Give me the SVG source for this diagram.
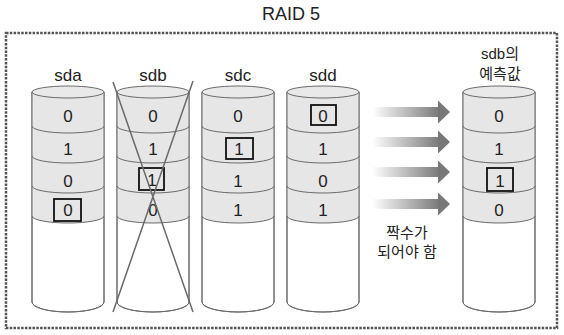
<svg xmlns="http://www.w3.org/2000/svg" xmlns:xlink="http://www.w3.org/1999/xlink" width="564" height="335" viewBox="0 0 564 335">
<style>
.lbl{font-family:"Liberation Sans","Noto Sans CJK KR",sans-serif;font-size:17px;fill:#222;text-anchor:middle}
.kr{font-family:"Liberation Sans","Noto Sans CJK KR",sans-serif;font-size:15px;fill:#222;text-anchor:middle}
.dig{font-family:"Liberation Sans",sans-serif;font-size:17px;fill:#222;text-anchor:middle}
.box{fill:none;stroke:#111;stroke-width:1.8}
.cl{fill:none;stroke:#6a6a6a;stroke-width:1}
.cross{stroke:#6a6a6a;stroke-width:1.5;fill:none}
.head{fill:#777}
</style>
<defs>
<linearGradient id="shaft" gradientUnits="userSpaceOnUse" x1="372" y1="0" x2="440" y2="0">
<stop offset="0" stop-color="#ffffff"/>
<stop offset="1" stop-color="#787878"/>
</linearGradient>
<g id="cyl">
<path d="M-36,92 L-36,302 A36 10 0 0 0 36,302 L36,92 Z" fill="#fff" stroke="#6a6a6a" stroke-width="1"/>
<path d="M-36,92 L-36,216 A36 7 0 0 0 36,216 L36,92 Z" fill="#e6e6e6"/>
<path d="M-36,92 L-36,302 A36 10 0 0 0 36,302 L36,92" class="cl"/>
<ellipse cx="0" cy="92" rx="36" ry="6" fill="#e9e9e9" stroke="#6a6a6a" stroke-width="1"/>
<path d="M-36,126 A36 7 0 0 0 36,126 M-36,156 A36 7 0 0 0 36,156 M-36,186 A36 7 0 0 0 36,186 M-36,216 A36 7 0 0 0 36,216" class="cl"/>
</g>
</defs>
<rect width="564" height="335" fill="#fff"/>
<text x="291" y="20" class="lbl" style="font-size:18px">RAID 5</text>
<rect x="6" y="33" width="551" height="295" fill="none" stroke="#555" stroke-width="2.5" stroke-dasharray="2.5 1.3"/>

<g id="sda">
<use xlink:href="#cyl" transform="translate(68,0)"/>
<text x="68" y="81" class="lbl">sda</text>
<text x="68" y="122" class="dig">0</text>
<text x="68" y="155" class="dig">1</text>
<text x="68" y="187" class="dig">0</text>
<text x="68" y="216" class="dig">0</text>
<rect x="54" y="199" width="27" height="22" class="box"/>
</g>

<g id="sdb">
<use xlink:href="#cyl" transform="translate(153,0)"/>
<text x="153" y="81" class="lbl">sdb</text>
<text x="153" y="122" class="dig">0</text>
<text x="153" y="155" class="dig">1</text>
<text x="152" y="186" class="dig">1</text>
<text x="153" y="216" class="dig">0</text>
<rect x="139" y="168" width="25" height="22" class="box"/>
<path d="M113,82 L193,312 M193,81 L113,312" class="cross"/>
</g>

<g id="sdc">
<use xlink:href="#cyl" transform="translate(238,0)"/>
<text x="238" y="81" class="lbl">sdc</text>
<text x="238" y="122" class="dig">0</text>
<text x="239" y="155" class="dig">1</text>
<text x="238" y="187" class="dig">1</text>
<text x="238" y="216" class="dig">1</text>
<rect x="226" y="138" width="27" height="21" class="box"/>
</g>

<g id="sdd">
<use xlink:href="#cyl" transform="translate(323,0)"/>
<text x="323" y="81" class="lbl">sdd</text>
<text x="323" y="122" class="dig">0</text>
<text x="323" y="155" class="dig">1</text>
<text x="323" y="187" class="dig">0</text>
<text x="323" y="216" class="dig">1</text>
<rect x="311" y="105" width="25" height="20" class="box"/>
</g>

<g id="sdb-predicted">
<use xlink:href="#cyl" transform="translate(499,0)"/>
<text x="500" y="59" class="kr">sdb의</text>
<text x="500" y="79" class="kr">예측값</text>
<text x="499" y="122" class="dig">0</text>
<text x="499" y="155" class="dig">1</text>
<text x="500" y="187" class="dig">1</text>
<text x="499" y="216" class="dig">0</text>
<rect x="487" y="168" width="26" height="23" class="box"/>
</g>

<g id="connectors">
<rect x="372" y="107" width="67" height="10" fill="url(#shaft)"/>
<polygon points="438,100.5 450,112 438,123.5" class="head"/>
<rect x="372" y="137" width="67" height="10" fill="url(#shaft)"/>
<polygon points="438,130.5 450,142 438,153.5" class="head"/>
<rect x="372" y="167" width="67" height="10" fill="url(#shaft)"/>
<polygon points="438,160.5 450,172 438,183.5" class="head"/>
<rect x="372" y="199" width="67" height="10" fill="url(#shaft)"/>
<polygon points="438,192.5 450,204 438,215.5" class="head"/>
</g>

<g id="note">
<text x="407" y="238" class="kr">짝수가</text>
<text x="407" y="257" class="kr">되어야 함</text>
</g>
</svg>
